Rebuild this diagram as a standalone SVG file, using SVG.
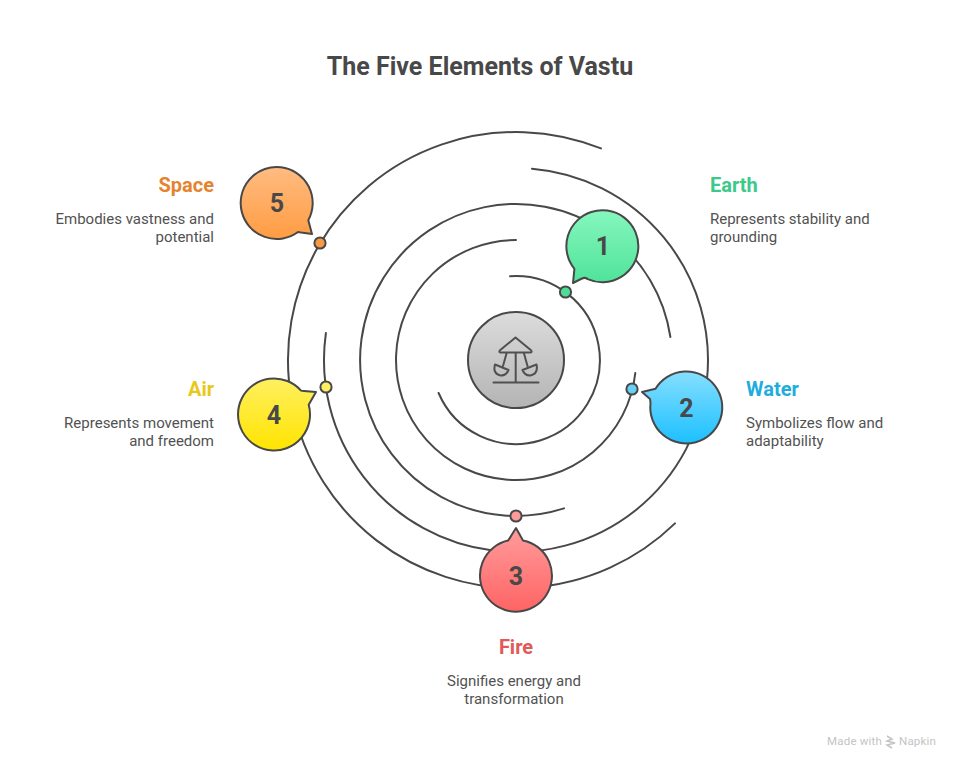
<svg xmlns="http://www.w3.org/2000/svg" width="960" height="768" viewBox="0 0 960 768">
<style>
text{font-family:Roboto,"Liberation Sans",sans-serif;fill:#484848}
.title{font-size:25px;font-weight:700;text-anchor:middle}
.head{font-size:20px;font-weight:700}
.desc{font-size:15px;fill:#525252}
.num{font-size:25px;font-weight:700;text-anchor:middle}
.arc,.ic{fill:none;stroke:#484848;stroke-width:2;stroke-linecap:round;stroke-linejoin:round}
.ic{stroke:#505050}
.sh{stroke:#484848;stroke-width:2;stroke-linejoin:round}
.dot{stroke:#484848;stroke-width:2}
.mark{font-size:11.5px;fill:#c4c4c4;letter-spacing:.2px}
</style>
<defs>
<linearGradient id="gc" x1="0" y1="0" x2="0" y2="1"><stop offset="0" stop-color="#dcdcdc"/><stop offset="1" stop-color="#b4b4b4"/></linearGradient>
<linearGradient id="g1" x1="0" y1="0" x2="0" y2="1"><stop offset="0" stop-color="#86f7bd"/><stop offset="1" stop-color="#4fe39a"/></linearGradient>
<linearGradient id="g2" x1="0" y1="0" x2="0" y2="1"><stop offset="0" stop-color="#86dfff"/><stop offset="1" stop-color="#1cc0ff"/></linearGradient>
<linearGradient id="g3" x1="0" y1="0" x2="0" y2="1"><stop offset="0" stop-color="#ff9c9c"/><stop offset="1" stop-color="#ff6464"/></linearGradient>
<linearGradient id="g4" x1="0" y1="0" x2="0" y2="1"><stop offset="0" stop-color="#fff060"/><stop offset="1" stop-color="#ffe400"/></linearGradient>
<linearGradient id="g5" x1="0" y1="0" x2="0" y2="1"><stop offset="0" stop-color="#ffbc82"/><stop offset="1" stop-color="#ff9c42"/></linearGradient>
</defs>
<rect width="960" height="768" fill="#fff"/>
<text class="title" x="480" y="75">The Five Elements of Vastu</text>
<g id="connectors">
<path class="arc" d="M510 276.200A84 84 0 1 1 438.600 393"/>
<path class="arc" d="M516 240A120 120 0 1 0 635.300 373"/>
<path class="arc" d="M670.400 337A156 156 0 1 0 564 508.400"/>
<path class="arc" d="M532 168.700A192 192 0 1 1 325.900 333"/>
<path class="arc" d="M601 148.440A228 228 0 1 0 675 523.400"/>
</g>
<g id="center">
<circle cx="516" cy="360" r="48" fill="url(#gc)" stroke="#484848" stroke-width="2"/>
<path class="ic" d="M515.500 337.500L500 350.300Q498.500 352 500.500 352.500H530.500Q532.500 352 531 350.300ZM515.700 352.500V382.300M493.500 382.500H538.500M506.500 353.500L503 366M524 353.500L527.500 366M495 364.500L508.500 370Q506 376 500.500 375.500Q492.500 373.500 495 364.500ZM536.500 364.500L522.500 370Q525 376 530.500 375.500Q538.500 373.500 536.500 364.500Z"/>
</g>
<g id="node-1">
<path class="sh" fill="url(#g1)" d="M573 283L574.400 268.900A36 36 0 1 1 587.700 279.100Q585 277 582 278.500Z"/>
<text class="num" x="603" y="255">1</text>
<circle class="dot" cx="565.500" cy="292" r="5.600" fill="#4fdc97"/>
<text class="head" x="710" y="191.500" style="fill:#3cc98a">Earth</text>
<text class="desc" x="710" y="224">Represents stability and</text>
<text class="desc" x="710" y="242">grounding</text>
</g>
<g id="node-2">
<path class="sh" fill="url(#g2)" d="M642 392L655.500 388.800A36 36 0 1 1 650.500 403.500Q650.500 401 650 399Z"/>
<text class="num" x="686.500" y="416.500">2</text>
<circle class="dot" cx="632" cy="389" r="5.600" fill="#68d0f6"/>
<text class="head" x="746" y="395.500" style="fill:#1fadde">Water</text>
<text class="desc" x="746" y="428">Symbolizes flow and</text>
<text class="desc" x="746" y="446">adaptability</text>
</g>
<g id="node-3">
<path class="sh" fill="url(#g3)" d="M516 528L523 540.400A36 36 0 1 1 508 540.600Q510 538 511 536Z"/>
<text class="num" x="516" y="584.500">3</text>
<circle class="dot" cx="516" cy="516" r="5.600" fill="#ff9a9a"/>
<text class="head" x="516" y="653.500" text-anchor="middle" style="fill:#e05a5a">Fire</text>
<text class="desc" x="514" y="686" text-anchor="middle">Signifies energy and</text>
<text class="desc" x="514" y="704" text-anchor="middle">transformation</text>
</g>
<g id="node-4">
<path class="sh" fill="url(#g4)" d="M316 392L308.700 404.800A36 36 0 1 1 300.700 390.300Q302 391 304 391Z"/>
<text class="num" x="274" y="423.500">4</text>
<circle class="dot" cx="326" cy="387" r="5.600" fill="#fff060"/>
<text class="head" x="214" y="395.500" text-anchor="end" style="fill:#e8c81a">Air</text>
<text class="desc" x="214" y="428" text-anchor="end">Represents movement</text>
<text class="desc" x="214" y="446" text-anchor="end">and freedom</text>
</g>
<g id="node-5">
<path class="sh" fill="url(#g5)" d="M312 234L308.300 220.200A36 36 0 1 0 298 232Q299 232 301 232.500Z"/>
<text class="num" x="277" y="211.500">5</text>
<circle class="dot" cx="320" cy="243" r="5.600" fill="#f79a45"/>
<text class="head" x="214" y="191.500" text-anchor="end" style="fill:#e5832f">Space</text>
<text class="desc" x="214" y="224" text-anchor="end">Embodies vastness and</text>
<text class="desc" x="214" y="242" text-anchor="end">potential</text>
</g>
<g id="watermark">
<text class="mark" x="827" y="745">Made with</text>
<path d="M887 736L892 739L887 741L895 743L887 745L892 748" fill="none" stroke="#c4c4c4" stroke-width="1.500"/>
<text class="mark" x="899" y="745">Napkin</text>
</g>
</svg>
